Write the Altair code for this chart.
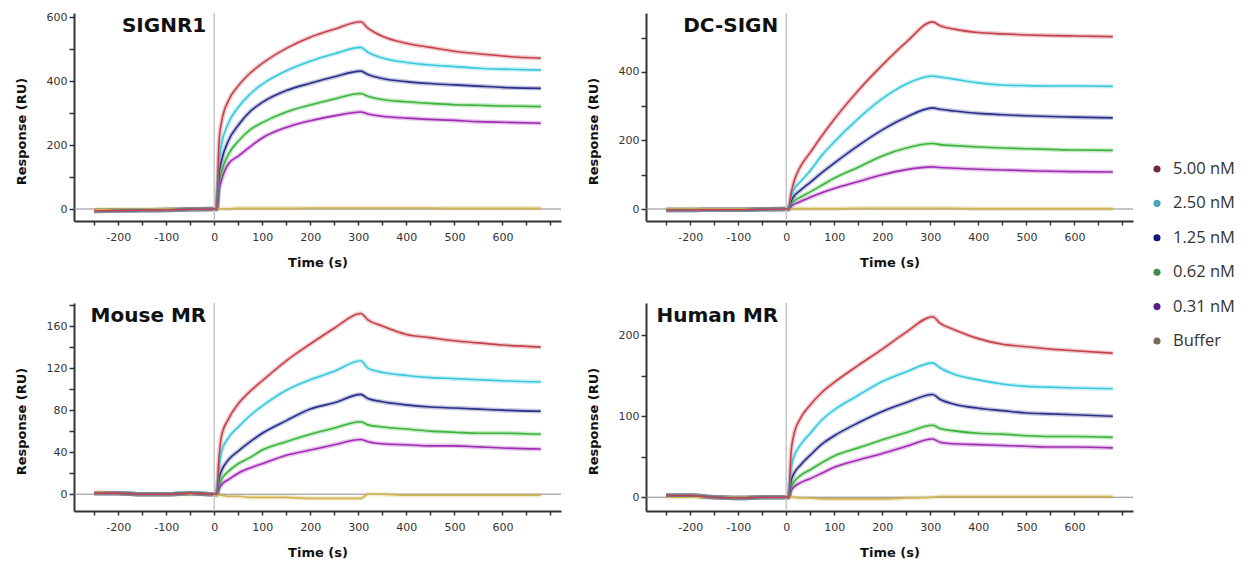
import altair as alt
import pandas as pd

# ---------------- data ----------------
T = [-250, -200, -150, -100, -50, 0, 5, 10, 15, 30, 50, 75, 100, 150, 200, 250,
     305, 320, 350, 400, 450, 500, 550, 600, 680]

LABELS = ["5.00 nM", "2.50 nM", "1.25 nM", "0.62 nM", "0.31 nM", "Buffer"]
LINE_COLORS = ["#c4424c", "#3cc8dc", "#2a2f8a", "#3cb43c", "#a02cb4", "#d2b450"]
DOT_COLORS = ["#6e2a3a", "#4aa4b4", "#141478", "#3c8c4c", "#5a1e8c", "#7a6a58"]

# SIGNR1
S1_BASE = [-6, -5, -4, -3, -1, 0]
S1_500 = S1_BASE + [0, 210, 270, 340, 385, 425, 455, 502, 537, 562, 585, 565, 540, 518, 505, 493, 485, 478, 471]
S1_250 = S1_BASE + [0, 150, 200, 270, 318, 360, 390, 432, 462, 485, 505, 490, 472, 458, 450, 445, 440, 437, 434]
S1_125 = S1_BASE + [0, 110, 150, 215, 262, 305, 333, 370, 393, 413, 431, 420, 408, 398, 392, 388, 384, 380, 377]
S1_062 = S1_BASE + [0, 80, 115, 172, 212, 248, 270, 303, 325, 344, 361, 352, 342, 335, 330, 326, 324, 322, 320]
S1_031 = S1_BASE + [0, 60, 90, 142, 165, 195, 222, 255, 276, 291, 303, 297, 290, 284, 280, 277, 273, 271, 268]
S1_BUF = [-2, -1, -1, 0, 0, 0, 0, 1, 1, 1, 2, 2, 2, 2, 3, 3, 3, 3, 3, 3, 3, 2, 2, 2, 2]

# DC-SIGN
S2_BASE = [-3, -3, -2, -2, -1, 0]
S2_500 = S2_BASE + [0, 45, 75, 125, 165, 215, 262, 346, 420, 487, 546, 535, 525, 515, 511, 508, 506, 505, 503]
S2_250 = S2_BASE + [0, 35, 55, 80, 112, 158, 196, 264, 322, 365, 388, 385, 379, 368, 362, 360, 359, 359, 358]
S2_125 = S2_BASE + [0, 22, 35, 55, 78, 107, 134, 185, 231, 268, 295, 291, 286, 279, 275, 272, 270, 268, 266]
S2_062 = S2_BASE + [0, 14, 22, 35, 50, 70, 90, 122, 155, 178, 191, 188, 185, 181, 178, 176, 174, 172, 171]
S2_031 = S2_BASE + [0, 8, 13, 22, 34, 48, 60, 80, 100, 115, 123, 121, 119, 116, 114, 112, 110, 109, 108]
S2_BUF = [0, 0, 0, 0, 0, 0, 0, 0, 1, 1, 1, 1, 1, 2, 2, 2, 2, 2, 2, 1, 1, 1, 1, 1, 1]

# Mouse MR
S3_BASE = [1, 1, 0, 0, 1, 0]
S3_500 = S3_BASE + [0, 35, 55, 72, 86, 98, 108, 127, 143, 158, 172, 166, 160, 152, 149, 146, 144, 142, 140]
S3_250 = S3_BASE + [0, 25, 40, 54, 64, 75, 84, 99, 109, 117, 127, 120, 116, 113, 111, 110, 109, 108, 107]
S3_125 = S3_BASE + [0, 15, 22, 33, 41, 50, 58, 70, 81, 87, 95, 91, 88, 85, 83, 82, 81, 80, 79]
S3_062 = S3_BASE + [0, 8, 14, 22, 29, 35, 42, 50, 57, 63, 69, 66, 64, 62, 60, 59, 58, 58, 57]
S3_031 = S3_BASE + [0, 5, 9, 14, 20, 25, 29, 37, 42, 47, 52, 50, 48, 47, 46, 46, 45, 44, 43]
S3_BUF = [2, 1, 0, 0, 0, 0, -1, -1, -1, -2, -2, -3, -3, -3, -4, -4, -4, 0, 0, -1, -1, -1, -1, -1, -1]

# Human MR
S4_BASE = [2, 2, 0, -1, 0, 0]
S4_500 = S4_BASE + [0, 55, 75, 98, 114, 130, 142, 163, 183, 204, 223, 215, 207, 196, 189, 186, 183, 181, 178]
S4_250 = S4_BASE + [0, 35, 48, 65, 79, 96, 108, 126, 143, 155, 166, 160, 152, 145, 140, 137, 136, 135, 134]
S4_125 = S4_BASE + [0, 20, 28, 40, 52, 66, 76, 92, 106, 117, 127, 121, 115, 110, 107, 104, 103, 102, 100]
S4_062 = S4_BASE + [0, 12, 18, 27, 34, 43, 51, 61, 71, 80, 89, 85, 82, 79, 78, 76, 75, 75, 74]
S4_031 = S4_BASE + [0, 8, 12, 18, 23, 30, 37, 46, 54, 63, 72, 68, 66, 65, 64, 63, 62, 62, 61]
S4_BUF = [0, 0, 0, 0, 0, 0, 0, 0, 0, -1, -1, -2, -2, -2, -2, -1, 0, 1, 1, 1, 1, 1, 1, 1, 1]

X_DOMAIN = [-292, 722]
X_TICKS = list(range(-250, 701, 50))

FONT = "DejaVu Sans"


def panel(name, series, ydom, yticks, ystep):
    rows = []
    for lab in reversed(LABELS):
        for t, v in zip(T, series[lab]):
            rows.append({"t": t, "v": v, "conc": lab})
    df = pd.DataFrame(rows)

    x = alt.X("t:Q",
              scale=alt.Scale(domain=X_DOMAIN, nice=False, zero=False),
              axis=alt.Axis(values=X_TICKS, title="Time (s)", labelOverlap=False,
                            labelExpr="(datum.value % 100 === 0 && datum.value <= 600) ? toString(datum.value) : ''"))
    y = alt.Y("v:Q",
              scale=alt.Scale(domain=ydom, nice=False, zero=False),
              axis=alt.Axis(values=yticks, title="Response (RU)", titleY=118, labelOverlap=False,
                            labelExpr=f"datum.value % {ystep} === 0 ? datum.label : ''"))
    color = alt.Color("conc:N", scale=alt.Scale(domain=LABELS, range=LINE_COLORS), legend=None)

    halo = alt.Chart(df).mark_line(strokeWidth=4.5, opacity=0.28, interpolate="monotone").encode(
        x=x, y=y, color=color)
    zdf = pd.DataFrame({"t": [0], "v": [0]})
    vrule = alt.Chart(zdf).mark_rule(color="#c8c8c8", strokeWidth=1.5).encode(x=x)
    hrule = alt.Chart(zdf).mark_rule(color="#8a8a8a", strokeWidth=1).encode(y=y)
    line = alt.Chart(df).mark_line(strokeWidth=1.6, interpolate="monotone").encode(
        x=x, y=y, color=color)
    title = alt.Chart(zdf).mark_text(text=name, align="right", baseline="alphabetic",
                                     fontSize=20, fontWeight="bold", font=FONT,
                                     color="#111111", dx=-8).encode(
        x=x, y=alt.value(19))
    return alt.layer(halo, vrule, hrule, line, title).properties(width=487, height=208)


def series(a, b, c, d, e, f):
    return dict(zip(LABELS, [a, b, c, d, e, f]))


p1 = panel("SIGNR1", series(S1_500, S1_250, S1_125, S1_062, S1_031, S1_BUF),
           [-37.5, 612.5], list(range(0, 601, 100)), 200)
p2 = panel("DC-SIGN", series(S2_500, S2_250, S2_125, S2_062, S2_031, S2_BUF),
           [-35, 572], list(range(0, 501, 100)), 200)
p3 = panel("Mouse MR", series(S3_500, S3_250, S3_125, S3_062, S3_031, S3_BUF),
           [-16, 182], list(range(0, 181, 20)), 40)
p4 = panel("Human MR", series(S4_500, S4_250, S4_125, S4_062, S4_031, S4_BUF),
           [-17, 240], list(range(0, 201, 50)), 100)

grid = alt.vconcat(alt.hconcat(p1, p2, spacing=25),
                   alt.hconcat(p3, p4, spacing=25), spacing=30)

leg_df = pd.DataFrame({"label": LABELS})
ly = alt.Y("label:N", sort=LABELS, axis=None,
           scale=alt.Scale(domain=LABELS, range=[156, 328], padding=0))
dots = alt.Chart(leg_df).mark_circle(size=50, opacity=1).encode(
    y=ly, color=alt.Color("label:N", scale=alt.Scale(domain=LABELS, range=DOT_COLORS), legend=None))
texts = alt.Chart(leg_df).mark_text(align="left", baseline="middle", dx=16, font="Open Sans",
                                    fontSize=16.5, color="#333333").encode(y=ly, text="label:N")
legend = alt.layer(dots, texts).properties(width=8, height=340)

chart = alt.hconcat(grid, legend, spacing=19).resolve_scale(color="independent").properties(
    padding={"left": 7, "top": 3, "right": 0, "bottom": 0}, background="white"
).configure_view(stroke=None).configure_axis(
    grid=False, domainColor="#333333", domainWidth=2, tickColor="#333333", tickWidth=1.5,
    tickSize=4, labelFont=FONT, labelFontSize=11, labelColor="#333333", labelOverlap=False,
    titleFont=FONT, titleFontSize=13, titleFontWeight="bold", titleColor="#111111"
).configure_axisX(labelPadding=6, titlePadding=14, labelFlush=False, labelOverlap=False).configure_axisY(
    labelPadding=2, tickSize=5, titlePadding=18)

chart.save("out.html", embed_options={"renderer": "svg", "actions": False})
